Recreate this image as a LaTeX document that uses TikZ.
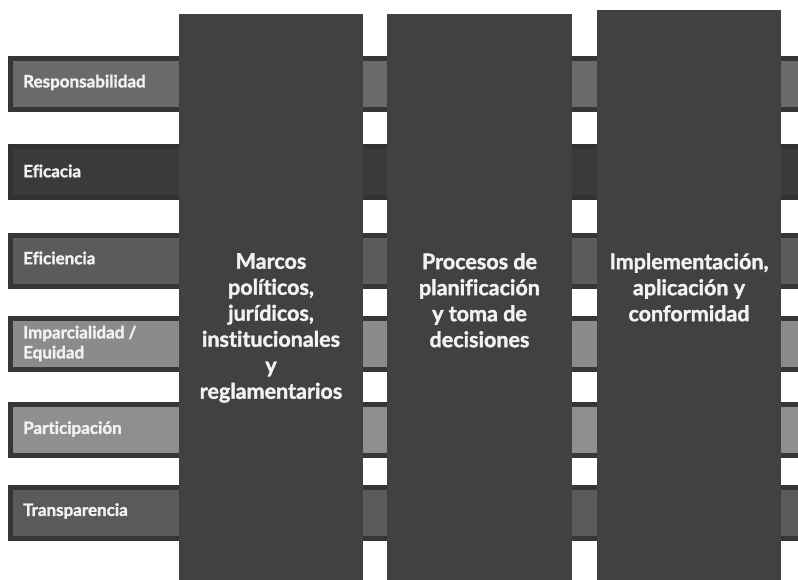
\documentclass[tikz,border=0pt]{standalone}
\usepackage{fontspec}
\setmainfont{Lato}[Ligatures={NoCommon}, BoldFeatures={FakeBold=1.6}]
\usetikzlibrary{positioning}
\definecolor{rimgray}{HTML}{363636}
\definecolor{pillargray}{HTML}{414141}
\definecolor{toneA}{HTML}{6A6A6A}
\definecolor{toneB}{HTML}{3A3A3A}
\definecolor{toneC}{HTML}{5B5B5B}
\definecolor{toneD}{HTML}{8B8B8B}
\definecolor{toneE}{HTML}{8F8F8F}
\definecolor{toneF}{HTML}{5A5A5A}

\begin{document}
\begin{tikzpicture}[
  x=1pt, y=-1pt,
  band/.style    = {draw=rimgray, line width=5pt, minimum width=800pt,
                    minimum height=51pt, inner sep=0pt, outer sep=0pt,
                    anchor=north west},
  tag/.style     = {anchor=west, inner sep=0pt, align=left, text=white!95!black,
                    font=\fontsize{17}{20}\selectfont\bfseries},
  pillar/.style  = {fill=pillargray, minimum width=184pt, minimum height=580pt,
                    inner sep=0pt, outer sep=0pt, anchor=north west},
  heading/.style = {inner sep=0pt, align=center, text=white!95!black,
                    font=\fontsize{21.5}{26}\selectfont\bfseries},
]
  \useasboundingbox (0,0) rectangle (798,580);
  \clip (0,0) rectangle (798,580);

  % horizontal bands, one per principle
  \node[band, fill=toneA]                (resp)  at (10.5,58.5)  {};
  \node[band, fill=toneB, draw=toneB!85!black] (efic) at (10.5,146.5) {};
  \node[band, fill=toneC]                (effi)  at (10.5,235.5) {};
  \node[band, fill=toneD]                (impa)  at (10.5,318.5) {};
  \node[band, fill=toneE]                (part)  at (10.5,404.5) {};
  \node[band, fill=toneF]                (trans) at (10.5,487.5) {};

  \node[tag] (lresp)  at ([xshift=12.5pt, yshift=1.5pt]resp.west)  {Responsabilidad};
  \node[tag] (lefic)  at ([xshift=12.5pt, yshift=1pt]efic.west)    {Eficacia};
  \node[tag] (leffi)  at ([xshift=12.5pt, yshift=3pt]effi.west)    {Eficiencia};
  \node[tag] (limpa)  at ([xshift=12.5pt, yshift=0.5pt]impa.west)  {Imparcialidad /\\ Equidad};
  \node[tag] (lpart)  at ([xshift=12.5pt, yshift=1pt]part.west)    {Participación};
  \node[tag] (ltrans) at ([xshift=12.5pt, yshift=2pt]trans.west)   {Transparencia};

  % vertical pillars laid over the bands
  \node[pillar]                    (marcos)  at (179,14) {};
  \node[pillar, minimum width=185pt] (procesos) at (387,14) {};
  \node[pillar]                    (implem)  at (597,10) {};

  \node[heading, below=239pt of marcos.north]   (tmarcos)
    {Marcos\\ políticos,\\ jurídicos,\\ institucionales\\ y\\ reglamentarios};
  \node[heading, below=239pt of procesos.north] (tprocesos)
    {Procesos de\\ planificación\\ y toma de\\ decisiones};
  \node[heading, below=243pt of implem.north]   (timplem)
    {Implementación,\\ aplicación y\\ conformidad};
\end{tikzpicture}
\end{document}
